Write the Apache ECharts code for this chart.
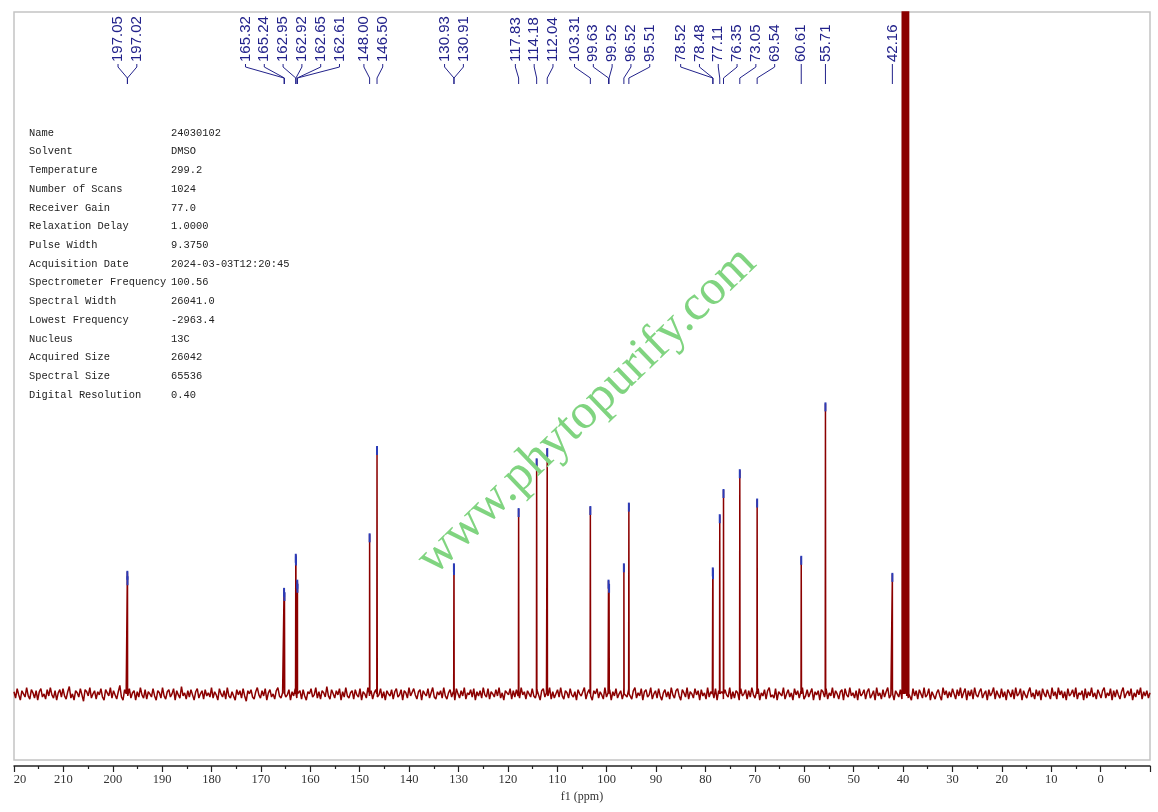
<!DOCTYPE html>
<html>
<head>
<meta charset="utf-8">
<title>13C NMR 24030102</title>
<script src="https://cdn.jsdelivr.net/npm/echarts@6/dist/echarts.min.js"></script>
<style>
  html, body { margin: 0; padding: 0; background: #fff; }
  #main { width: 1158px; height: 812px; }
</style>
</head>
<body>
<div id="main"></div>
<script>
// picked peaks (ppm) and their heights
const peakPpm = [197.05, 197.02, 165.32, 165.24, 162.95, 162.92, 162.65, 162.61, 148.00, 146.50,
  130.93, 130.91, 117.83, 114.18, 112.04, 103.31, 99.63, 99.52, 96.52, 95.51,
  78.52, 78.48, 77.11, 76.35, 73.05, 69.54, 60.61, 55.71, 42.16];
const peakHeight = [17.9, 17.1, 15.4, 14.8, 20.4, 20.0, 16.6, 16.0, 23.4, 36.2,
  19.0, 18.6, 27.1, 34.4, 35.9, 27.4, 16.6, 16.0, 19.0, 27.9,
  18.4, 18.0, 26.2, 29.9, 32.8, 28.5, 20.1, 42.6, 17.6];

// DMSO-d6 septet, runs off the top
const solventPpm = [40.15, 39.94, 39.73, 39.52, 39.31, 39.10, 38.89];
const solventHeight = [130, 380, 760, 890, 760, 380, 130];

// baseline noise, tenths of an intensity unit, left (220 ppm) to right (-10 ppm)
const noise = [
  2, -4, 5, -1, -6, 3, 0, -3, 6, -2, -5, 4, 1, -4, 3, -6, 2, 5, -3, 0, -5, 4, -2, 6, -1, -4, 3, -6, 1, 4,
  -3, 5, -2, -5, 2, 7, -4, 0, -6, 3, 1, -3, 5, -1, -7, 4, 2, -2, 6, -4, 0, 3, -5, 2, -1, 5, -3, -6, 4, 1,
  -2, 6, -4, 3, -1, -5, 2, 8, -3, -6, 4, 0, -2, 5, -4, 1, 3, -6, 2, -3, 6, -1, -4, 4, -5, 2, 0, -3, 5, -2,
  -6, 3, 1, -4, 6, -2, -5, 2, 4, -3, 0, 5, -6, 3, -1, -4, 7, -2, 1, -5, 3, -3, 4, -1, -6, 2, 5, -4, 0, 3,
  -5, 4, -2, 1, -3, 6, -4, 2, -1, -6, 5, 0, -3, 3, -5, 6, -2, -4, 2, 1, -6, 4, -1, 3, -4, 5, -2, -7, 3, 0,
  4, -3, -5, 2, 6, -1, -4, 3, -2, 5, -6, 1, 4, -3, 0, -5, 3, 6, -2, -4, 1, 5, -3, -1, 4, -6, 2, -2, 5, -4,
  1, 3, -5, 4, -2, -6, 2, 0, 5, -3, -1, 6, -4, 2, -5, 3, 1, -3, 7, -2, -5, 4, 0, -4, 3, -1, 5, -6, 2, -3,
  6, -2, -4, 1, 3, -5, 4, -1, -3, 5, -6, 2, 0, -4, 6, -2, 3, -5, 1, 4, -3, -1, 5, -4, 2, -6, 3, 0, -2, 4,
  -5, 2, 5, -3, -1, 4, -6, 3, 1, -4, 6, -2, -3, 5, -1, -5, 2, 4, -6, 3, 0, -2, 5, -4, 1, 6, -3, -5, 2, -1,
  3, -4, 6, -2, -5, 1, 4, -3, 2, -6, 5, 0, -4, 3, -2, 6, -5, 1, -1, 4, -3, 5, -6, 2, -2, 3, -4, 6, -1, -3,
  5, -5, 2, 0, -3, 4, -2, 6, -4, 1, -6, 3, 2, -1, 5, -5, 3, -3, 4, -2, -4, 6, -1, 2, -5, 3, 0, -3, 5, -2,
  -4, 4, -1, -6, 3, 5, -3, 1, -2, 6, -5, 2, -4, 0, 4, -3, 6, -2, -5, 3, 1, -4, 5, -1, -3, 2, -6, 4, 0, -2,
  -3, 6, -5, 1, 4, -2, -6, 3, 0, 5, -4, 2, -1, -5, 6, -3, 1, 4, -6, 2, -2, 5, -4, 0, 3, -5, 6, -1, -3, 4,
  0, -5, 3, 6, -4, 1, -2, 5, -6, 2, 4, -3, -1, 6, -5, 0, 3, -4, 5, -2, -6, 1, 4, -3, 2, -5, 6, -1, -4, 3,
  5, -2, -6, 4, 1, -3, 6, -5, 2, 0, -4, 5, -1, 3, -6, 4, -2, 1, -5, 6, -3, 2, 0, -4, 5, -6, 3, -1, 2, -5,
  4, -1, -3, 6, -5, 2, -4, 3, 1, -6, 5, -2, 0, 4, -5, 3, -3, 6, -1, -4, 2, 5, -6, 1, -2, 4, -5, 3, 6, -3,
  -1, -4, 5, -6, 2, 3, -2, 6, -5, 0, 4, -3, 1, -6, 5, -1, 3, -4, 2, 6, -5, -2, 4, -3, 1, 5, -6, 2, -1, 3,
  -6, 4, 2, -3, 5, -5, 1, -2, 6, -4, 3, 0, -5, 2, 4, -6, 5, -1, -3, 6, -2, 1, -4, 3, -6, 5, -2, 0, 4, -5,
  2, 5, -4, -1, 3, -6, 6, -2, 1, -5, 4, -3, 2, 6, -4, -1, 5, -6, 3, 0, -3, 4, -5, 2, 6, -2, -4, 1, -6, 5,
  -2, 3, -5, 4, 0, -4, 6, -3, -1, 5, -6, 2, 3, -5, 1, 4, -2, -6, 6, -1, 3, -4, 2, -3, 5, 0, -5, 4, -2, 6,
  -4, 1, 5, -6, 3, -2, 4, -5, 6, -1, -3, 2, 5, -4, 0, 3, -6, 4, -2, 1, 6, -5, 3, -1, -4, 5, -3, 2, -6, 4,
  1, -3, 4, -5, 6, -2, 0, 5, -6, 3, -1, -4, 2, 6, -3, 1, -5, 4, -2, 3, -6, 5, 0, -3, 4, -1, -5, 6, -2, 2,
  -5, 6, -1, 3, -4, 2, -6, 5, -2, 0, 4, -3, 6, -5, 1, -1, 3, -6, 5, -4, 2, -2, 6, -3, 1, -5, 4, 0, -4, 3,
  6, -4, 1, -2, 5, -6, 3, -3, 4, -1, -5, 2, 6, -4, 0, 3, -2, 5, -6, 1, -3, 4, -1, 6, -5, 2, -2, 3, -4, 1,
];

const infoKeys = ['Name', 'Solvent', 'Temperature', 'Number of Scans', 'Receiver Gain',
  'Relaxation Delay', 'Pulse Width', 'Acquisition Date', 'Spectrometer Frequency',
  'Spectral Width', 'Lowest Frequency', 'Nucleus', 'Acquired Size', 'Spectral Size',
  'Digital Resolution'];
const infoValues = ['24030102', 'DMSO', '299.2', '1024', '77.0', '1.0000', '9.3750',
  '2024-03-03T12:20:45', '100.56', '26041.0', '-2963.4', '13C', '26042', '65536', '0.40'];

const X_MIN = -10;
const X_MAX = 220;
const LABEL_GAP = 18.8;
const LABEL_COLOR = '#22228b';
const CAP_COLOR = '#2b3cb8';
const LINE_COLOR = '#8b0000';

const buildSpectrum = () => {
  const step = (X_MAX - X_MIN) / (noise.length - 1);
  const pts = noise.map((n, i) => [X_MAX - i * step, n / 6.5]);
  const addLine = (ppm, h) => { pts.push([ppm + 0.05, 0], [ppm, h], [ppm - 0.05, 0]); };
  peakPpm.forEach((v, i) => addLine(v, peakHeight[i]));
  solventPpm.forEach((v, i) => addLine(v, solventHeight[i]));
  pts.sort((a, b) => b[0] - a[0]);
  return pts;
};

// push crowded labels apart, keep each group centred on its peaks
const spreadLabels = (xs, gap) => {
  const groups = [];
  xs.forEach((x) => {
    groups.push({ sum: x, n: 1 });
    while (groups.length > 1) {
      const cur = groups[groups.length - 1];
      const prev = groups[groups.length - 2];
      const prevEnd = prev.sum / prev.n + (prev.n - 1) * gap / 2;
      const curStart = cur.sum / cur.n - (cur.n - 1) * gap / 2;
      if (curStart - prevEnd >= gap) break;
      prev.sum += cur.sum;
      prev.n += cur.n;
      groups.pop();
    }
  });
  const out = [];
  groups.forEach((g) => {
    const start = g.sum / g.n - (g.n - 1) * gap / 2;
    for (let k = 0; k < g.n; k += 1) out.push(start + k * gap);
  });
  return out;
};

const peakData = peakPpm.map((v, i) => [v, peakHeight[i]]);

const infoGraphics = [];
infoKeys.forEach((key, i) => {
  const y = 133 + i * 18.71;
  infoGraphics.push({
    type: 'text', x: 29, y,
    style: { text: key, fill: '#222', font: '10.4px "Liberation Mono"', verticalAlign: 'middle' },
  });
  infoGraphics.push({
    type: 'text', x: 171, y,
    style: { text: infoValues[i], fill: '#222', font: '10.4px "Liberation Mono"', verticalAlign: 'middle' },
  });
});

const chart = echarts.init(document.getElementById('main'));
chart.setOption({
  animation: false,
  backgroundColor: '#fff',
  grid: {
    left: 14, right: 8, top: 12, bottom: 52,
    show: true, borderColor: '#c4c4c4', borderWidth: 1.5, backgroundColor: 'transparent',
  },
  xAxis: {
    type: 'value',
    inverse: true,
    min: X_MIN,
    max: X_MAX,
    interval: 10,
    offset: 6,
    splitLine: { show: false },
    axisLine: { onZero: false, lineStyle: { color: '#222', width: 1.5 } },
    axisTick: { length: 6, lineStyle: { color: '#222', width: 1.2 } },
    minorTick: { show: true, splitNumber: 2, length: 3, lineStyle: { color: '#222', width: 1.2 } },
    axisLabel: {
      margin: 7,
      color: '#333',
      fontFamily: 'Liberation Serif',
      fontSize: 12.5,
      formatter: (v) => {
        if (v === X_MAX) return '{cut|20}';
        return v < 0 ? '' : String(v);
      },
      rich: {
        cut: { padding: [0, 0, 0, 12], color: '#333', fontFamily: 'Liberation Serif', fontSize: 12.5 },
      },
    },
    name: 'f1 (ppm)',
    nameLocation: 'middle',
    nameGap: 25,
    nameTextStyle: { color: '#333', fontFamily: 'Liberation Serif', fontSize: 12 },
  },
  yAxis: {
    type: 'value', min: -9.7, max: 100, show: false,
  },
  series: [
    {
      type: 'line',
      data: buildSpectrum(),
      showSymbol: false,
      sampling: 'none',
      clip: true,
      lineStyle: { color: LINE_COLOR, width: 1.5 },
      z: 2,
    },
    {
      type: 'custom',
      data: peakData,
      z: 3,
      renderItem: (params, api) => {
        const p = api.coord([api.value(0), api.value(1)]);
        return {
          type: 'line',
          shape: { x1: p[0], y1: p[1] - 1, x2: p[0], y2: p[1] + 8 },
          style: { stroke: CAP_COLOR, lineWidth: 2 },
        };
      },
    },
    {
      type: 'custom',
      data: peakData,
      z: 4,
      renderItem: (params, api) => {
        const xs = peakPpm.map(v => api.coord([v, 0])[0]);
        const lxs = spreadLabels(xs, LABEL_GAP);
        const i = params.dataIndex;
        const px = xs[i];
        const lx = lxs[i];
        return {
          type: 'group',
          children: [
            {
              type: 'text',
              x: lx,
              y: 62,
              rotation: Math.PI / 2,
              style: {
                text: peakPpm[i].toFixed(2),
                fill: LABEL_COLOR,
                font: '15px "Liberation Sans"',
                align: 'left',
                verticalAlign: 'middle',
              },
            },
            {
              type: 'polyline',
              shape: { points: [[lx, 64], [lx, 67], [px, 78], [px, 84]] },
              style: { stroke: LABEL_COLOR, lineWidth: 1, fill: null },
            },
          ],
        };
      },
    },
  ],
  graphic: [
    ...infoGraphics,
    {
      type: 'text',
      x: 587,
      y: 411,
      rotation: 0.766,
      z: 10,
      style: {
        text: 'www.phytopurify.com',
        font: '50px "Liberation Serif"',
        fill: '#80d480',
        align: 'center',
        verticalAlign: 'middle',
      },
    },
  ],
});
</script>
</body>
</html>
